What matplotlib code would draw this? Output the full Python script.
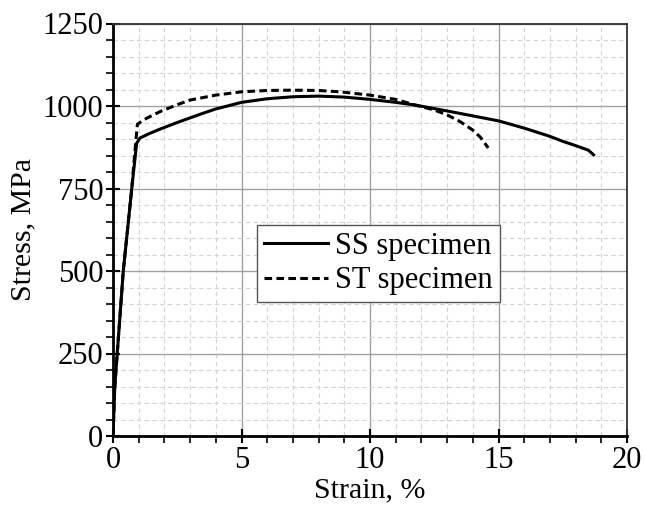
import matplotlib
matplotlib.use('Agg')
from matplotlib import pyplot as plt
from matplotlib.ticker import MultipleLocator

plt.rc('font', family='Liberation Serif', size=22)

# strain (%) / stress (MPa)
ss_strain = [0, 0.07, 0.4, 0.73, 0.92, 1.05, 1.4, 1.83, 2.5, 3.0, 3.5, 4.0, 5.0, 6.0,
             7.0, 8.0, 9.0, 10.0, 11.0, 11.75, 13.0, 14.0, 15.0, 16.0, 17.0, 17.5,
             18.0, 18.5, 18.7]
ss_stress = [0, 150, 500, 750, 887, 903, 916, 930, 950, 964, 978, 991, 1011, 1022,
             1028, 1030, 1027, 1020, 1011, 1003, 985, 970, 955, 933, 908, 893,
             880, 866, 852]

st_strain = [0, 0.07, 0.4, 0.73, 0.85, 0.95, 1.31, 1.83, 2.5, 3.0, 4.0, 5.0, 6.0,
             7.0, 8.0, 8.83, 10.0, 11.0, 11.75, 12.5, 13.0, 13.5, 14.0, 14.3, 14.6]
st_stress = [0, 150, 500, 750, 860, 945, 963, 983, 1004, 1018, 1033, 1043, 1047,
             1048, 1047, 1043, 1033, 1020, 1003, 988, 973, 953, 927, 905, 873]

labels = ['SS specimen', 'ST specimen']

fig = plt.figure(figsize=(6.45, 5.09), dpi=100)
ax = fig.add_axes([113/645, 73/509, 514/645, 412.5/509])

ax.plot(ss_strain, ss_stress, color='black', lw=2.2, label=labels[0])
ax.plot(st_strain, st_stress, color='black', lw=2.2, ls=(0, (2.5, 1.4)), label=labels[1])

ax.set_xlim(0, 20)
ax.set_ylim(0, 1250)
ax.xaxis.set_major_locator(MultipleLocator(5))
ax.xaxis.set_minor_locator(MultipleLocator(1))
ax.yaxis.set_major_locator(MultipleLocator(250))
ax.yaxis.set_minor_locator(MultipleLocator(50))

ax.grid(which='major', color='#a0a0a0', lw=1.0, ls='-')
ax.grid(which='minor', color='#d4d4d4', lw=0.8, ls=(0, (4, 3)))
ax.set_axisbelow(True)

ax.tick_params(which='major', direction='inout', length=10, width=1.5, color='black',
               pad=2, labelsize=22)
ax.tick_params(which='minor', direction='out', length=5, width=1.2, color='black')
ax.tick_params(top=False, right=False)

for s in ('left', 'bottom'):
    ax.spines[s].set_linewidth(2)
for s in ('top', 'right'):
    ax.spines[s].set_linewidth(1.3)
    ax.spines[s].set_color('#333333')

ax.set_xlabel('Strain, %', labelpad=2, fontsize=21.5)
ax.set_ylabel('Stress, MPa', labelpad=4, fontsize=21.5)

leg = ax.legend(loc='lower left', bbox_to_anchor=(0.28, 0.325), fancybox=False,
                edgecolor='#555555', framealpha=1, handlelength=2.1, fontsize=22,
                borderpad=0.22, labelspacing=0.18, handletextpad=0.25,
                borderaxespad=0)
leg.get_frame().set_linewidth(1.0)

fig.savefig('out.png', dpi=100)
